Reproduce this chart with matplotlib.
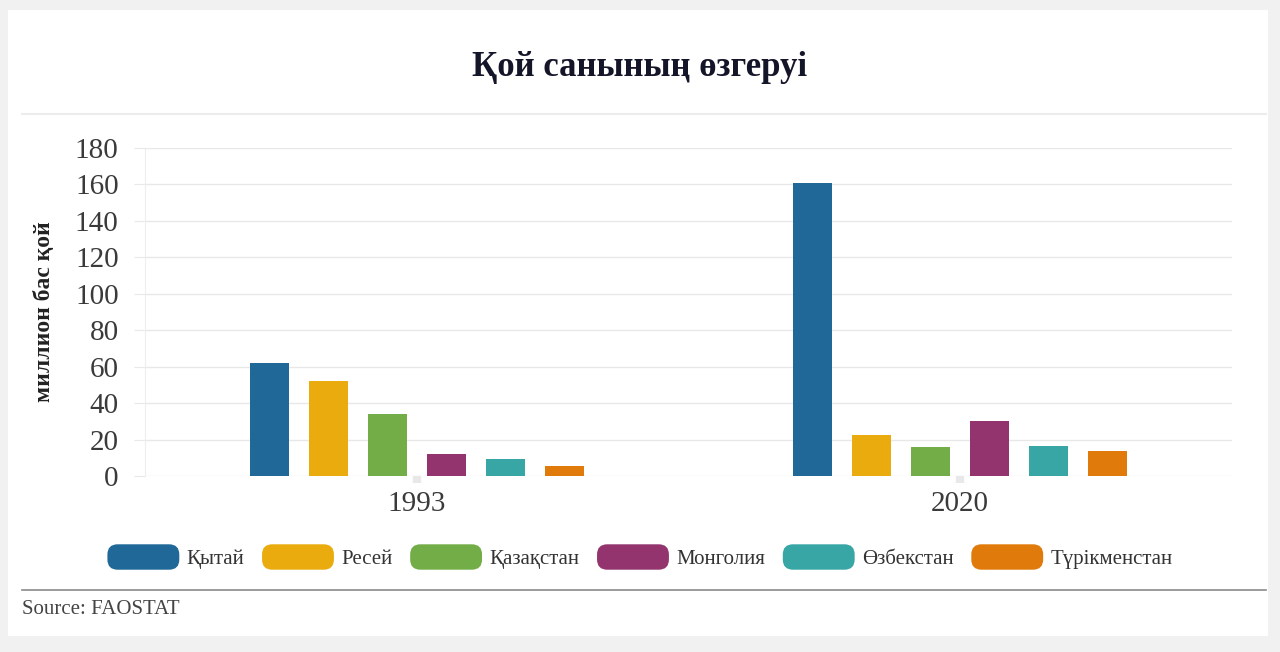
import matplotlib
matplotlib.use("Agg")
import matplotlib.pyplot as plt
from matplotlib.patches import FancyBboxPatch, Rectangle
from matplotlib.legend_handler import HandlerPatch
from matplotlib.lines import Line2D
from matplotlib.container import BarContainer
import numpy as np

years = ["1993", "2020"]
countries = ["Қытай", "Ресей", "Қазақстан", "Монголия", "Өзбекстан", "Түрікменстан"]
values_1993 = [62.0, 52.1, 34.0, 12.1, 9.3, 5.5]
values_2020 = [160.8, 22.5, 15.9, 30.2, 16.5, 13.7]
colors = ["#1f6898", "#eaab0f", "#72ad47", "#93346f", "#38a6a5", "#e07b0b"]
yticks = [0, 20, 40, 60, 80, 100, 120, 140, 160, 180]

title = "Қой санының өзгеруі"
ylabel = "миллион бас қой"
source = "Source: FAOSTAT"

plt.rcParams['font.family'] = ['Liberation Serif', 'DejaVu Serif']

fig = plt.figure(figsize=(12.8, 6.52), dpi=100)
fig.patch.set_facecolor("#f1f1f1")
# white card
card = Rectangle((8/1280, 1 - 636/652), 1260/1280, (636-10)/652,
                 transform=fig.transFigure, facecolor="white",
                 edgecolor="none", zorder=-10)
fig.add_artist(card)

ax = fig.add_axes([145/1280, 1 - 476/652, (1232-145)/1280, (476-148)/652])
ax.set_zorder(5)
ax.set_facecolor("white")

data = np.array([values_1993, values_2020]).T  # countries x years
x = np.arange(len(years))
step = 0.1086
width = 0.0718
handles = []
for i, (c, col) in enumerate(zip(countries, colors)):
    b = ax.bar(x + (i - 2.5) * step, data[i], width=width, color=col, label=c, zorder=3)
    handles.append(b)

ax.set_xlim(-0.5, 1.5)
ax.set_ylim(0, 180)
ax.set_yticks(yticks)
ax.set_yticklabels([str(t) for t in yticks], fontsize=21, color="#3a3a3a")
ax.set_xticks(x)
ax.set_xticklabels(years, fontsize=21, color="#3a3a3a")
ax.grid(axis="y", color="#e8e8e8", linewidth=1, zorder=0)
ax.set_axisbelow(True)
for s in ["top", "right", "bottom"]:
    ax.spines[s].set_visible(False)
ax.spines["left"].set_color("#eeeeee")
ax.tick_params(axis="y", length=8, color="#e8e8e8", pad=11)
ax.tick_params(axis="x", length=5, width=6, color="#e8e8e8", pad=6)
ax.set_ylabel(ylabel, fontsize=17, fontweight="bold", color="#222222")
ax.yaxis.set_label_coords(-0.083, 0.5)

fig.text(0.5, 1 - 67/652, title, ha="center", va="center", fontsize=25,
         fontweight="bold", color="#15152a")

fig.add_artist(Line2D([22/1280, 1266/1280], [1 - 114/652, 1 - 114/652],
                      color="#ececec", linewidth=1.5, transform=fig.transFigure))
fig.add_artist(Line2D([22/1280, 1266/1280], [1 - 590/652, 1 - 590/652],
                      color="#8a8a8a", linewidth=1.2, transform=fig.transFigure))
fig.text(22/1280, 1 - 610/652, source, ha="left", va="center", fontsize=15,
         color="#444444")


class RoundHandler(HandlerPatch):
    def create_artists(self, legend, orig_handle, xdescent, ydescent, width, height, fontsize, trans):
        p = FancyBboxPatch((-xdescent, -ydescent), width, height,
                           boxstyle="round,pad=0,rounding_size=%f" % (height * 0.4),
                           facecolor=orig_handle.patches[0].get_facecolor(),
                           edgecolor="none", transform=trans)
        return [p]


leg = fig.legend(handles=handles, labels=countries, loc="center",
                 bbox_to_anchor=(640/1280, 1 - 557/652), ncol=6, frameon=False,
                 handler_map={BarContainer: RoundHandler()},
                 handlelength=3.45, handleheight=1.5, handletextpad=0.35,
                 columnspacing=0.85, prop={"size": 15})
for t in leg.get_texts():
    t.set_color("#333333")

fig.savefig("out.png", dpi=100, facecolor=fig.get_facecolor())
